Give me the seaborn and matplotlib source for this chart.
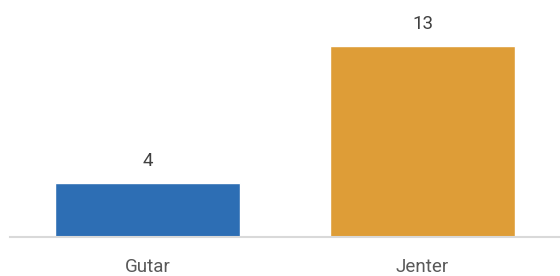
import pandas as pd
import matplotlib
matplotlib.use('Agg')
import matplotlib.pyplot as plt
import seaborn as sns

# Data
groups = ['Gutar', 'Jenter']
counts = [4, 13]
colors = ['#2D6EB4', '#DE9D37']

df = pd.DataFrame({'group': groups, 'count': counts})

sns.set_style('white')
plt.rcParams['font.family'] = ['Roboto', 'DejaVu Sans']

fig = plt.figure(figsize=(5.6, 2.76), dpi=100)
ax = fig.add_axes([10 / 560, 39 / 276, 550 / 560, 237 / 276])

sns.barplot(data=df, x='group', y='count', hue='group', palette=colors,
            width=0.672, saturation=1, legend=False, ax=ax)

ax.set_xlim(-0.5, 1.5)
ax.set_ylim(0.45, 16.0)

# value labels above bars
for i, v in enumerate(counts):
    ax.annotate(str(v), (i, v), xytext=(0, 9.5), textcoords='offset points',
                ha='center', va='bottom', fontsize=13.5, color='#404040')

for side in ['top', 'left', 'right']:
    ax.spines[side].set_visible(False)
ax.spines['bottom'].set_color('#D9D9D9')
ax.spines['bottom'].set_linewidth(1.5)

ax.set_yticks([])
ax.set_xlabel('')
ax.set_ylabel('')
ax.tick_params(axis='x', length=0, pad=15, labelsize=13.5, labelcolor='#595959')

fig.savefig('out.png', dpi=100)
